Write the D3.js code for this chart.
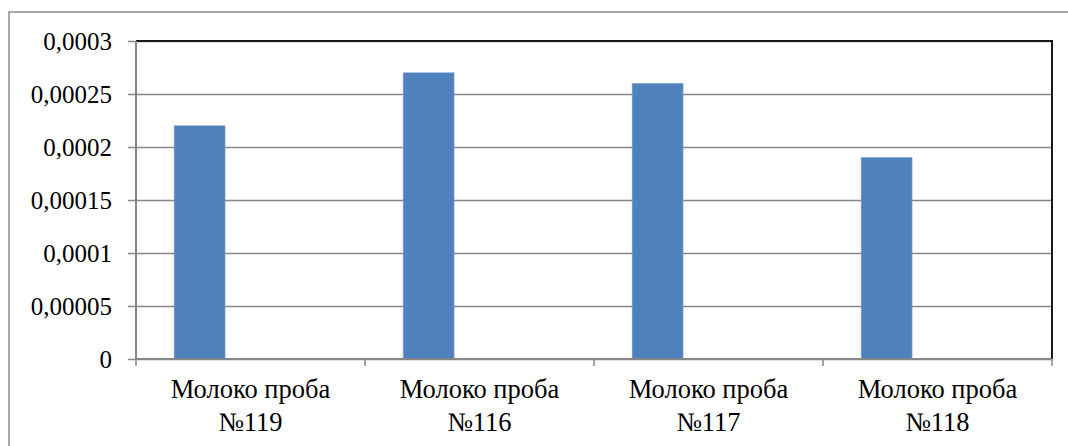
<!DOCTYPE html>
<html>
<head>
<meta charset="utf-8">
<script src="https://cdn.jsdelivr.net/npm/d3@7"></script>
<style>
	body { margin: 0; background: #fff; }
	svg { display: block; }
</style>
</head>
<body>
<svg id="chart" width="1068" height="446"></svg>
<script>
const categories = ['Молоко проба №119', 'Молоко проба №116', 'Молоко проба №117', 'Молоко проба №118'];
const values = [0.00022, 0.00027, 0.00026, 0.00019];
const yTicks = [0, 0.00005, 0.0001, 0.00015, 0.0002, 0.00025, 0.0003];
// the source chart keeps room for 3 series per category, only the first is filled
const seriesSlots = ['s1', 's2', 's3'];

const Chart = {
	frame: { left: 9, top: 12 },
	plot: { left: 136, top: 41, right: 1052, bottom: 359 },
	fontFamily: 'Liberation Serif, Times New Roman, serif',
	fontSize: 25,
	catFontSize: 26.5,
	gridColor: '#868686',
	barColor: '#4f81bd',

	draw: function() {
		const self = this;
		var svg = d3.select('#chart');
		var p = self.plot;
		var width = p.right - p.left;
		var height = p.bottom - p.top;

		// outer frame (runs off the picture right and bottom)
		svg.append('path')
			.attr('d', 'M' + self.frame.left + ',460 V' + self.frame.top + ' H1080')
			.attr('fill', 'none')
			.attr('stroke', '#8c8c8c')
			.attr('stroke-width', 1.5);

		var x0 = d3.scaleBand()
			.domain(categories)
			.range([0, width])
			.padding(0);
		var x1 = d3.scaleBand()
			.domain(seriesSlots)
			.range([0, x0.bandwidth()])
			.paddingInner(0)
			.paddingOuter(0.75);
		var y = d3.scaleLinear()
			.domain([0, d3.max(yTicks)])
			.range([height, 0]);

		var g = svg.append('g')
			.attr('transform', 'translate(' + [p.left, p.top] + ')');

		// gridlines
		var grid = g.append('g')
			.call(d3.axisLeft(y).tickValues(yTicks).tickSize(-width).tickFormat(''));
		grid.select('.domain').remove();
		grid.selectAll('line')
			.attr('stroke', self.gridColor)
			.attr('stroke-width', 1.5);

		// bars
		g.selectAll('.bar')
			.data(values)
			.enter()
			.append('rect')
			.attr('class', 'bar')
			.attr('x', function(d, i) { return x0(categories[i]) + x1('s1'); })
			.attr('y', function(d) { return y(d); })
			.attr('width', x1.bandwidth())
			.attr('height', function(d) { return y(0) - y(d); })
			.attr('fill', self.barColor)
			.attr('stroke', '#7fa2cf')
			.attr('stroke-width', 0.6);

		// plot area top + right border
		g.append('path')
			.attr('d', 'M0,' + y(d3.max(yTicks)) + ' H' + width + ' V' + y(0))
			.attr('fill', 'none')
			.attr('stroke', '#1a1a1a')
			.attr('stroke-width', 2);

		// y axis
		var yAxis = g.append('g')
			.call(d3.axisLeft(y)
				.tickValues(yTicks)
				.tickSize(8)
				.tickPadding(16)
				.tickFormat(function(d) { return String(d).replace('.', ','); }));
		yAxis.attr('font-family', self.fontFamily).attr('font-size', self.fontSize);
		yAxis.select('.domain')
			.attr('stroke', self.gridColor)
			.attr('stroke-width', 2)
			.attr('d', 'M0,' + y(d3.max(yTicks)) + ' V' + (y(0) + 1));
		yAxis.selectAll('.tick line')
			.attr('stroke', self.gridColor)
			.attr('stroke-width', 1.5);
		yAxis.selectAll('.tick text')
			.attr('dy', '0.33em');

		// x axis line with ticks at category edges
		var xAxis = g.append('g')
			.attr('transform', 'translate(0,' + y(0) + ')')
			.attr('font-family', self.fontFamily)
			.attr('font-size', self.catFontSize);
		xAxis.append('line')
			.attr('x1', 0)
			.attr('x2', width)
			.attr('stroke', self.gridColor)
			.attr('stroke-width', 2);
		var edges = categories.map(function(c) { return x0(c); }).concat([width]);
		xAxis.selectAll('.edge')
			.data(edges)
			.enter()
			.append('line')
			.attr('class', 'edge')
			.attr('x1', function(d) { return d; })
			.attr('x2', function(d) { return d; })
			.attr('y1', 0)
			.attr('y2', 7)
			.attr('stroke', self.gridColor)
			.attr('stroke-width', 1.5);

		// category labels, two lines each
		xAxis.selectAll('.cat')
			.data(categories)
			.enter()
			.append('text')
			.attr('class', 'cat')
			.attr('text-anchor', 'middle')
			.attr('fill', '#000')
			.each(function(d) {
				var cx = x0(d) + x0.bandwidth() / 2;
				var parts = d.split(' №');
				d3.select(this).append('tspan')
					.attr('x', cx).attr('y', 39)
					.text(parts[0]);
				d3.select(this).append('tspan')
					.attr('x', cx).attr('y', 72)
					.text('№' + parts[1]);
			});
	}
};

Chart.draw();
</script>
</body>
</html>
